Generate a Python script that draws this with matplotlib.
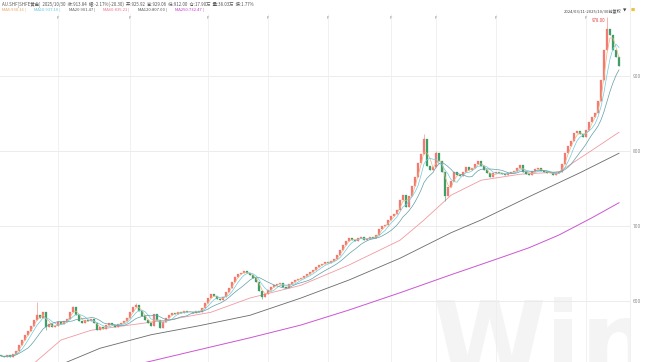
import matplotlib
matplotlib.use("Agg")
import matplotlib.pyplot as plt
import pandas as pd

plt.rcParams["font.family"] = ["Noto Sans CJK SC", "DejaVu Sans"]

# 收盘价 (每根K线约两个交易日), 2024/03 - 2025/10
closes = [
    527, 525, 528, 526, 529, 534, 542, 548, 555, 560,
    567, 575, 582, 578, 585, 566, 569, 565, 567, 572,
    569, 574, 576, 586, 592, 582, 574, 571, 575, 573,
    576, 571, 561, 565, 563, 568, 571, 568, 565, 569,
    571, 573, 577, 585, 592, 595, 587, 580, 575, 571,
    567, 583, 575, 564, 572, 578, 581, 584, 583, 586,
    584, 587, 585, 586, 584, 587, 586, 591, 598, 604,
    609, 607, 603, 601, 606, 612, 618, 626, 632, 636,
    638, 640, 637, 635, 631, 626, 613, 606, 610, 615,
    619, 622, 623, 624, 619, 618, 623, 626, 628, 630,
    631, 633, 636, 639, 642, 645, 648, 650, 652, 651,
    653, 656, 661, 668, 675, 680, 684, 682, 680, 684,
    686, 681, 683, 685, 684, 688, 696, 700, 702, 708,
    713, 716, 722, 735, 742, 726, 740, 753, 765, 784,
    796, 816, 780, 775, 778, 797, 786, 772, 740, 752,
    760, 772, 768, 766, 772, 778, 774, 777, 782, 787,
    780, 775, 770, 765, 770, 772, 771, 769, 768, 771,
    772, 773, 777, 781, 772, 769, 768, 773, 776, 777,
    773, 772, 771, 770, 768, 770, 772, 783, 797, 807,
    813, 824, 826, 823, 818, 828, 838, 845, 851, 866,
    895, 935, 962, 955, 935, 925, 913,
]
first_open = 528
wick_high = {12: 599, 24: 594, 45: 597, 141: 822, 145: 800, 202: 978}
wick_low = {15: 562, 87: 603, 148: 733}

# 长周期均线
ma60_idx = [11, 20, 30, 43, 56, 70, 83, 100, 116, 133, 141, 150, 160, 173, 186, 197, 206]
ma60_val = [517, 548, 561, 568, 575, 585, 604, 621, 648, 681, 708, 741, 761, 769, 772, 801, 825]
ma120_idx = [21, 33, 50, 66, 83, 100, 116, 133, 150, 160, 176, 193, 206]
ma120_val = [517, 537, 555, 567, 581, 604, 628, 657, 691, 708, 739, 771, 797]
ma250_idx = [47, 66, 83, 100, 116, 133, 150, 166, 176, 186, 197, 206]
ma250_val = [517, 535, 551, 568, 588, 611, 635, 657, 671, 688, 711, 731]

price_ticks = [600, 700, 800, 900]
mark_idx = [19, 43, 69, 89, 109, 130, 145, 165, 195]

header = ("AU.SHF[SHFE黄金]  2025/10/30  收:913.84  幅:-2.17%(-20.30)  开:925.92  "
          "高:929.06  低:912.00  仓:17.90万  量:38.03万  振:1.77%")
ma_labels = [("MA5:930.16", "#eaa25a"), ("MA10:937.10", "#5cc3de"),
             ("MA20:901.47", "#5a5a5a"), ("MA60:835.21", "#ee6f8c"),
             ("MA120:807.00", "#505050"), ("MA250:732.47", "#c23fca")]

UP = "#f27a72"
DOWN = "#3c9e68"

s = pd.Series(closes, dtype=float)
opens = s.shift(1).fillna(first_open)
ma5 = s.rolling(3, min_periods=1).mean()
ma10 = s.rolling(5, min_periods=1).mean()
ma20 = s.rolling(10, min_periods=1).mean()

fig = plt.figure(figsize=(6.5, 3.62), dpi=100)
ax = fig.add_axes([0, 0, 630 / 650, 1])
ax.set_xlim(-0.33, 209.67)
ax.set_ylim(518.7, 1001.3)

# watermark
ax.text(433 / 630, -0.04, "Wind", transform=ax.transAxes, fontsize=74,
        fontweight="bold", color="#f4f4f4", family="DejaVu Sans",
        ha="left", va="baseline", zorder=0, clip_on=True)

for p in price_ticks:
    ax.axhline(p, color="#e9e9e9", lw=0.6, zorder=1)
for m in mark_idx:
    ax.axvline(m, ymax=0.962, color="#efefef", lw=0.6, zorder=1)
    ax.text(m, 0.955, "F", transform=ax.get_xaxis_transform(), fontsize=3,
            color="#888888", ha="center", va="top")

for i, c in enumerate(closes):
    o = opens[i]
    col = UP if c >= o else DOWN
    hi = wick_high.get(i, max(o, c))
    lo = wick_low.get(i, min(o, c))
    ax.vlines(i, lo, hi, color=col, lw=0.4, zorder=3)
    ax.bar(i, max(abs(c - o), 0.6), bottom=min(o, c), width=0.55,
           color=col, edgecolor=col, lw=0.2, zorder=3)

x = range(len(closes))
ax.plot(x, ma5, color="#f0b07a", lw=0.5, zorder=4)
ax.plot(x, ma10, color="#6ccbe2", lw=0.5, zorder=4)
ax.plot(x, ma20, color="#5f9ea4", lw=0.5, zorder=4)
ax.plot(ma60_idx, ma60_val, color="#f09aa2", lw=0.6, zorder=2)
ax.plot(ma120_idx, ma120_val, color="#6a6a6a", lw=0.6, zorder=2)
ax.plot(ma250_idx, ma250_val, color="#cc55d2", lw=0.7, zorder=2)

# 最高价标注
top_i = max(wick_high, key=lambda k: wick_high[k])
ax.text(top_i - 0.5, wick_high[top_i] - 4, f"{wick_high[top_i]:.2f}",
        fontsize=3.2, color="#e04040", ha="right", va="center", zorder=5)

ax.yaxis.tick_right()
ax.set_yticks(price_ticks)
ax.set_yticklabels([str(p) for p in price_ticks], fontsize=3.5, color="#888888")
ax.tick_params(axis="y", length=0, pad=2)
ax.set_xticks([])
for side in ["top", "left", "bottom"]:
    ax.spines[side].set_visible(False)
ax.spines["right"].set_color("#eeeeee")
ax.spines["right"].set_linewidth(0.6)

fig.text(0.003, 0.994, header, fontsize=3.2, color="#555555", ha="left", va="top")
xpos = 0.003
for lab, col in ma_labels:
    fig.text(xpos, 0.977, lab + " |", fontsize=3.0, color=col, ha="left", va="top")
    xpos += (len(lab) + 2) * 0.0041
fig.text(0.868, 0.977, "2024/03/11-2025/10/30前复权", fontsize=3.0,
         color="#444444", ha="left", va="top")
fig.text(0.958, 0.977, "▼", fontsize=3.2, color="#444444", ha="left", va="top",
         family="DejaVu Sans")
fig.text(0.970, 0.979, "■", fontsize=3.2, color="#f0c040", ha="left", va="top",
         family="DejaVu Sans")

fig.savefig("out.png", dpi=100, facecolor="white")
